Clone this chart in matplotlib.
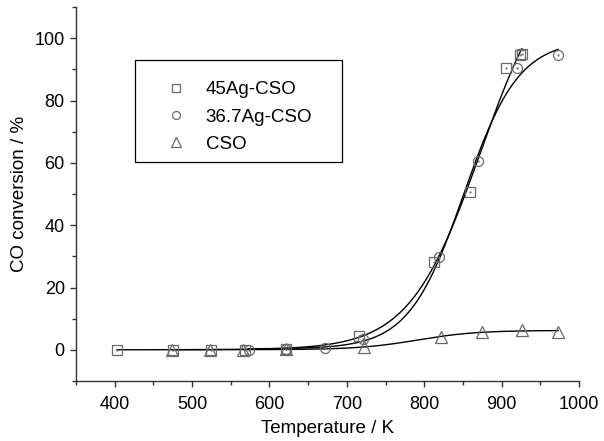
import numpy as np
import matplotlib
matplotlib.use("Agg")
import matplotlib.pyplot as plt
from matplotlib.patches import Rectangle
from matplotlib.ticker import MultipleLocator

plt.rcParams["font.family"] = ["Liberation Sans", "DejaVu Sans"]

# ---- data ----
labels = ["45Ag-CSO", "36.7Ag-CSO", "CSO"]
markers = ["s", "o", "^"]

t_45ag = [403, 475, 525, 568, 622, 716, 812, 859, 906, 924, 926]
y_45ag = [0.0, 0.0, 0.0, 0.0, 0.3, 4.5, 28.3, 50.5, 90.3, 94.5, 95.0]

t_367ag = [573, 622, 672, 721, 819, 870, 920, 973]
y_367ag = [0.0, 0.3, 0.6, 3.5, 29.9, 60.5, 90.6, 94.5]

t_cso = [474, 523, 566, 622, 722, 822, 875, 926, 973]
y_cso = [0.0, 0.0, 0.0, 0.3, 1.0, 4.2, 5.8, 6.4, 5.8]

series = [(t_45ag, y_45ag), (t_367ag, y_367ag), (t_cso, y_cso)]


def boltzmann_fit(x, y):
    """Least-squares Boltzmann sigmoid fit (grid over x0/dx, linear solve for A1/A2)."""
    x = np.asarray(x, float); y = np.asarray(y, float)
    best = None
    for x0 in np.arange(700, 1000, 1.0):
        for dx in np.arange(5, 80, 0.5):
            s = 1.0 / (1.0 + np.exp((x - x0) / dx))
            M = np.column_stack([s, 1 - s])
            coef, *_ = np.linalg.lstsq(M, y, rcond=None)
            err = np.sum((M @ coef - y) ** 2)
            if best is None or err < best[0]:
                best = (err, x0, dx, coef)
    _, x0, dx, (a1, a2) = best
    return lambda t: a2 + (a1 - a2) / (1.0 + np.exp((t - x0) / dx))


fig = plt.figure(figsize=(6.04, 4.41), dpi=100)
ax = fig.add_axes([0.1258, 0.136, 0.8328, 0.848])

grey = "#6a6a6a"
for (t, y), m, lab in zip(series, markers, labels):
    f = boltzmann_fit(t, y)
    tt = np.linspace(min(t), max(t), 300)
    ax.plot(tt, f(tt), color="black", lw=1.0, zorder=2)
    ms = 8.5 if m == "^" else 7.2
    ax.plot(t, y, ls="none", marker=m, ms=ms, mfc="none", mec=grey, mew=0.9,
            label=lab, zorder=3)
    if m != "^":
        ax.plot(t, y, ls="none", marker=".", ms=1.2, color=grey, zorder=3)

ax.set_xlim(350, 1000)
ax.set_ylim(-10, 110)
ax.xaxis.set_minor_locator(MultipleLocator(50))
ax.yaxis.set_minor_locator(MultipleLocator(10))
ax.set_xticks(np.arange(400, 1001, 100))
ax.set_yticks(np.arange(0, 101, 20))

for s in ("top", "right"):
    ax.spines[s].set_visible(False)
for s in ("left", "bottom"):
    ax.spines[s].set_color("#333333")
    ax.spines[s].set_linewidth(1.0)
ax.tick_params(which="major", direction="out", length=4, width=1.0, color="#333333",
               labelsize=13)
ax.tick_params(axis="x", which="major", pad=7)
ax.tick_params(axis="y", which="major", pad=4)
ax.tick_params(which="minor", direction="out", length=3, width=1.0, color="#333333")

ax.set_xlabel("Temperature / K", fontsize=13.5, labelpad=5)
ax.set_ylabel("CO conversion / %", fontsize=13.5, labelpad=5)

# legend box drawn separately so its width matches the reference
ax.add_patch(Rectangle((0.117, 0.586), 0.4115, 0.272, transform=ax.transAxes,
                       fill=False, ec="black", lw=0.9, zorder=4))
ax.legend(loc="upper left", bbox_to_anchor=(0.117, 0.858), frameon=False,
          fontsize=13.5, handletextpad=0.55, borderpad=1.12, labelspacing=0.54,
          markerscale=0.8, handlelength=2.1, borderaxespad=0)

fig.savefig("out.png", dpi=100)
